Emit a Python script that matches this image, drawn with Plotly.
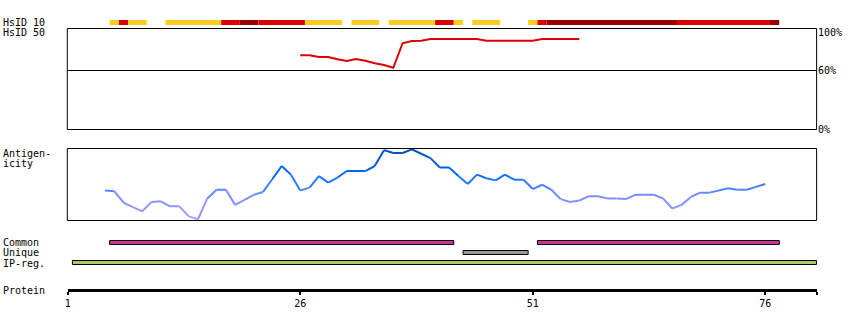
import plotly.graph_objects as go
from plotly.colors import sample_colorscale

# ---------------- data ----------------
protein_length = 81
axis_end = 81.571          # end of protein ruler (residue units)
ruler_ticks = [1, 26, 51, 76]

# HsID 10 identity blocks (residue ranges) and their level
hsid10_start = [6, 7, 8, 12, 18, 20, 22, 27, 32, 36, 41, 43, 45, 51, 52, 53, 67, 77]
hsid10_end   = [6, 7, 9, 17, 19, 21, 26, 30, 34, 40, 42, 43, 47, 51, 52, 66, 76, 77]
hsid10_level = ["mid", "high", "mid", "mid", "high", "top", "high", "mid", "mid",
                "mid", "high", "mid", "mid", "mid", "high", "top", "high", "top"]

# HsID 50 identity curve (%)
hsid50_res = list(range(26, 57))
hsid50_val = [75.5, 75.5, 73.7, 73.7, 71.4, 69.7, 71.7, 70.0, 67.3, 65.6, 62.8,
              87.7, 90.0, 90.3, 92.0, 92.0, 92.0, 92.0, 92.0, 92.0,
              90.3, 90.3, 90.3, 90.3, 90.3, 90.3,
              92.0, 92.0, 92.0, 92.0, 92.0]

# Antigenicity (normalised score 0..1)
antigen_res = list(range(5, 77))
antigen_val = [0.41, 0.40, 0.24, 0.18, 0.12, 0.25, 0.26, 0.19, 0.19, 0.05,
               0.01, 0.30, 0.42, 0.42, 0.21, 0.28, 0.35, 0.39, 0.57, 0.75,
               0.63, 0.41, 0.45, 0.61, 0.52, 0.59, 0.68, 0.68, 0.68, 0.75,
               0.97, 0.93, 0.93, 0.98, 0.92, 0.86, 0.73, 0.73, 0.61, 0.50,
               0.63, 0.58, 0.55, 0.63, 0.56, 0.56, 0.43, 0.49, 0.42, 0.29,
               0.25, 0.27, 0.33, 0.33, 0.30, 0.30, 0.29, 0.35, 0.35, 0.35,
               0.30, 0.16, 0.21, 0.32, 0.38, 0.38, 0.41, 0.44, 0.42, 0.42,
               0.46, 0.50]

# Feature tracks (residue ranges)
common_start = [6, 52]
common_end = [42, 77]
unique_start = [44]
unique_end = [50]
ipreg_start = [2]
ipreg_end = [81]

# ---------------- styling ----------------
W, H = 850, 330
FONT = "DejaVu Sans Mono"
X0_PX, X1_PX = 65, 817
level_color = {"mid": "#FFCC22", "high": "#DD0000", "top": "#990000"}
antigen_scale = [[0.0, "#AAA2FF"], [0.3, "#8090FF"], [0.45, "#4C82FF"],
                 [0.65, "#0068F8"], [0.85, "#0058D2"], [1.0, "#004C9A"]]


def py(px):
    """pixel row -> paper fraction"""
    return 1 - px / H


fig = go.Figure()

# HsID 50 line
fig.add_trace(go.Scatter(x=hsid50_res, y=hsid50_val, xaxis="x", yaxis="y2",
                         mode="lines", line=dict(color="#DD0000", width=2),
                         hoverinfo="skip"))

# Antigenicity line, coloured by value
for i in range(len(antigen_res) - 1):
    v = (antigen_val[i] + antigen_val[i + 1]) / 2
    col = sample_colorscale(antigen_scale, [v])[0]
    fig.add_trace(go.Scatter(x=antigen_res[i:i + 2], y=antigen_val[i:i + 2],
                             xaxis="x", yaxis="y3", mode="lines",
                             line=dict(color=col, width=2), hoverinfo="skip"))

shapes = []
# panel frames
def frame(top, bottom):
    return dict(type="rect", xref="paper", yref="paper",
                x0=(X0_PX - 0.5) / W, x1=(X1_PX - 0.5) / W,
                y0=py(top), y1=py(bottom), line=dict(color="black", width=1),
                fillcolor="rgba(0,0,0,0)", layer="above")

shapes.append(frame(28.5, 129.5))
shapes.append(frame(148.5, 220.5))
# 60% reference line
shapes.append(dict(type="line", xref="paper", yref="y2", x0=(X0_PX - 0.5) / W,
                   x1=(X1_PX - 0.5) / W, y0=60, y1=60,
                   line=dict(color="black", width=1)))

# HsID 10 blocks
for s, e, lv in zip(hsid10_start, hsid10_end, hsid10_level):
    shapes.append(dict(type="rect", xref="x", yref="y", x0=s - 0.5, x1=e + 0.5,
                       y0=20, y1=25, line=dict(width=0),
                       fillcolor=level_color[lv]))

# feature tracks
def track(starts, ends, top, color):
    for s, e in zip(starts, ends):
        shapes.append(dict(type="rect", xref="x", yref="y", x0=s - 0.5, x1=e + 0.5,
                           y0=top + 0.5, y1=top + 4.5,
                           line=dict(color="black", width=1), fillcolor=color))

track(common_start, common_end, 240, "#CC3399")
track(unique_start, unique_end, 250, "#999999")
track(ipreg_start, ipreg_end, 260, "#AACC66")

annotations = []
def label(text, x_px, y_px, anchor="left"):
    annotations.append(dict(text=text, xref="paper", yref="paper",
                            x=x_px / W, y=py(y_px), xanchor=anchor,
                            yanchor="middle", showarrow=False,
                            font=dict(family=FONT, size=10, color="black")))

LX = -2
label("HsID 10", LX, 22.5)
label("HsID 50", LX, 33)
label("Antigen-", LX, 153)
label("icity", LX, 163)
label("Common", LX, 242.5)
label("Unique", LX, 252.5)
label("IP-reg.", LX, 263)
label("Protein", LX, 290)
label("100%", 816, 33)
label("60%", 816, 71)
label("0%", 816, 129)

dom_x = [X0_PX / W, X1_PX / W]
fig.update_layout(
    width=W, height=H, autosize=False,
    margin=dict(l=0, r=0, t=0, b=0, pad=0),
    paper_bgcolor="white", plot_bgcolor="white",
    showlegend=False,
    font=dict(family=FONT, size=10, color="black"),
    xaxis=dict(domain=dom_x, range=[1, axis_end], anchor="free",
               position=py(289.5), showline=True, linecolor="black",
               linewidth=3, ticks="outside", ticklen=3, tickwidth=2,
               tickcolor="black", tickvals=ruler_ticks + [axis_end],
               ticktext=[str(t) for t in ruler_ticks] + [""],
               showgrid=False, zeroline=False,
               tickfont=dict(family=FONT, size=10, color="black")),
    yaxis=dict(domain=[0, 1], range=[H, 0], visible=False, anchor="x"),
    yaxis2=dict(domain=[py(129.5), py(31.17)], range=[0, 100], visible=False,
                anchor="x"),
    yaxis3=dict(domain=[py(220), py(148)], range=[0, 1], visible=False,
                anchor="x"),
    shapes=shapes, annotations=annotations,
)

fig.write_html("out.html")
